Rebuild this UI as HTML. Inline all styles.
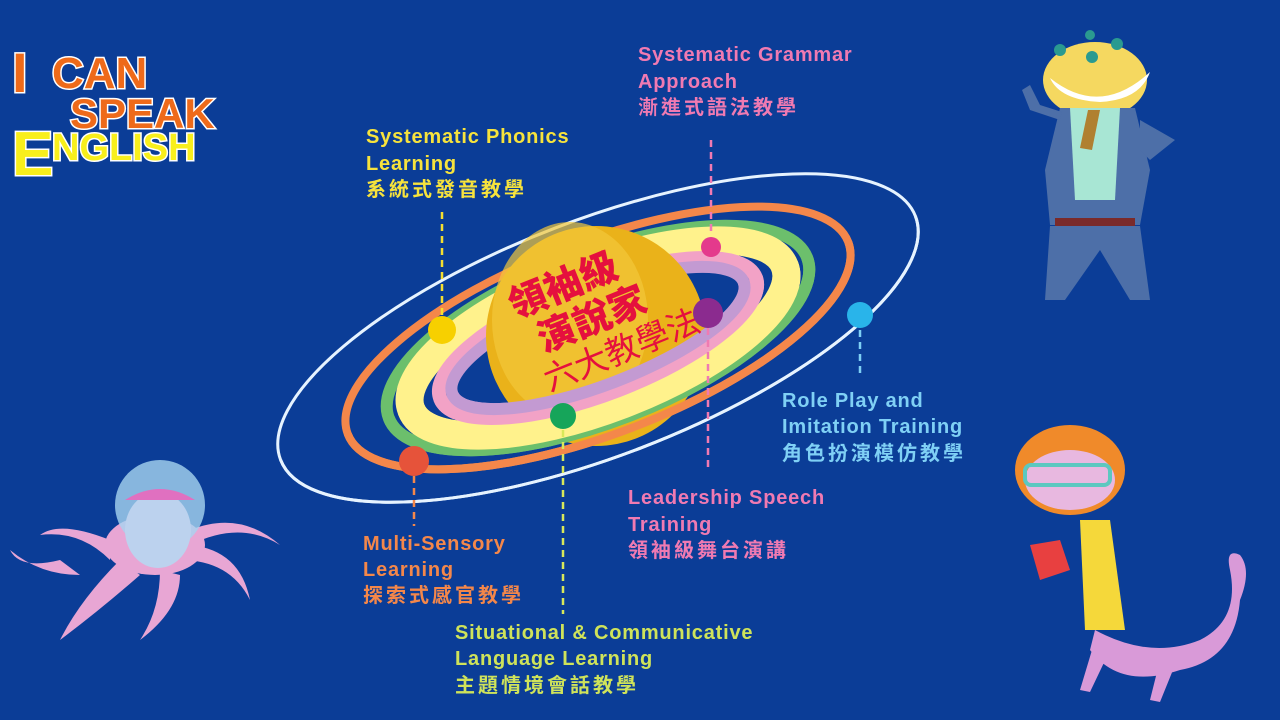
<!DOCTYPE html>
<html><head><meta charset="utf-8"><style>
html,body{margin:0;padding:0;background:#0b3d97;}
svg{display:block;}
text{font-family:"Liberation Sans","Noto Sans CJK TC",sans-serif;font-weight:bold;font-size:20px;letter-spacing:0.8px;}
text.c{letter-spacing:3px;}
</style></head><body>
<svg width="1280" height="720" viewBox="0 0 1280 720" xmlns="http://www.w3.org/2000/svg">
<rect width="1280" height="720" fill="#0b3d97"/>
<defs>
<clipPath id="front"><rect x="-400" y="0" width="800" height="300"/></clipPath>
</defs>
<g transform="translate(598,338) rotate(-21)" fill="none">
<ellipse rx="340" ry="118" stroke="#e6f3ff" stroke-width="3"/>
<ellipse rx="268" ry="96" stroke="#f4874a" stroke-width="8"/>
<ellipse rx="224" ry="84" stroke="#6cbf6c" stroke-width="12"/>
<ellipse rx="200" ry="71" stroke="#fff28c" stroke-width="28"/>
<ellipse rx="169" ry="56" stroke="#f2a2c6" stroke-width="14"/>
<ellipse rx="156" ry="47" stroke="#c39ad2" stroke-width="12"/>
</g>
<circle cx="596" cy="336" r="110" fill="#eab21a"/>
<ellipse cx="570" cy="320" rx="78" ry="98" fill="#f2c83a" opacity="0.7"/>
<g transform="translate(598,338) rotate(-21)" fill="none" clip-path="url(#front)">
<ellipse rx="340" ry="118" stroke="#e6f3ff" stroke-width="3"/>
<ellipse rx="268" ry="96" stroke="#f4874a" stroke-width="8"/>
<ellipse rx="224" ry="84" stroke="#6cbf6c" stroke-width="12"/>
<ellipse rx="200" ry="71" stroke="#fff28c" stroke-width="28"/>
<ellipse rx="169" ry="56" stroke="#f2a2c6" stroke-width="14"/>
<ellipse rx="156" ry="47" stroke="#c39ad2" stroke-width="12"/>
</g>
<g transform="translate(598,318) rotate(-22)" fill="#e5103e" text-anchor="middle">
<text x="-20" y="-30" style="font-size:38px;font-weight:900;letter-spacing:0">領袖級</text>
<text x="-6" y="12" style="font-size:38px;font-weight:900;letter-spacing:0">演說家</text>
<text x="10" y="50" style="font-size:33px;font-weight:normal;letter-spacing:0">六大教學法</text>
</g>
<g stroke-width="2.5" stroke-dasharray="7,5" fill="none">
<line x1="442" y1="212" x2="442" y2="318" stroke="#f5df30"/>
<line x1="711" y1="140" x2="711" y2="236" stroke="#f07ab2"/>
<line x1="708" y1="328" x2="708" y2="472" stroke="#f07ab2"/>
<line x1="860" y1="330" x2="860" y2="376" stroke="#7fd0f5"/>
<line x1="414" y1="476" x2="414" y2="526" stroke="#f4874a"/>
<line x1="563" y1="430" x2="563" y2="614" stroke="#d8e85a"/>
</g>
<circle cx="442" cy="330" r="14" fill="#f7d000"/>
<circle cx="711" cy="247" r="10" fill="#e43a8c"/>
<circle cx="708" cy="313" r="15" fill="#8b2b8f"/>
<circle cx="860" cy="315" r="13" fill="#29b4ea"/>
<circle cx="563" cy="416" r="13" fill="#16a55a"/>
<circle cx="414" cy="461" r="15" fill="#e6533a"/>
<g fill="#f7e33c"><text x="366" y="143">Systematic Phonics</text><text x="366" y="170">Learning</text><text class="c" x="366" y="196">系統式發音教學</text></g>
<g fill="#f07ab2"><text x="638" y="61">Systematic Grammar</text><text x="638" y="88">Approach</text><text class="c" x="638" y="114">漸進式語法教學</text></g>
<g fill="#7fd0f5"><text x="782" y="407">Role Play and</text><text x="782" y="433">Imitation Training</text><text class="c" x="782" y="460">角色扮演模仿教學</text></g>
<g fill="#f07ab2"><text x="628" y="504">Leadership Speech</text><text x="628" y="531">Training</text><text class="c" x="628" y="557">領袖級舞台演講</text></g>
<g fill="#f4874a"><text x="363" y="550">Multi-Sensory</text><text x="363" y="576">Learning</text><text class="c" x="363" y="602">探索式感官教學</text></g>
<g fill="#cfe35a"><text x="455" y="639">Situational &amp; Communicative</text><text x="455" y="665">Language Learning</text><text class="c" x="455" y="692">主題情境會話教學</text></g>
<g stroke="#fff" stroke-width="3" paint-order="stroke">
<text x="12" y="92" fill="#ee6a1a" style="font-size:56px;font-weight:900;letter-spacing:0">I</text>
<text x="52" y="88" fill="#ee6a1a" style="font-size:44px;font-weight:900;letter-spacing:0">CAN</text>
<text x="70" y="128" fill="#ee6a1a" style="font-size:42px;font-weight:900;letter-spacing:0">SPEAK</text>
<text x="12" y="175" fill="#f8ef1c" style="font-size:62px;font-weight:900;letter-spacing:0">E</text>
<text x="52" y="160" fill="#f8ef1c" style="font-size:38px;font-weight:900;letter-spacing:0">NGLISH</text>
</g>
<g>
<ellipse cx="1095" cy="80" rx="52" ry="38" fill="#f5d860"/>
<path d="M1050 78 Q1100 118 1150 72 Q1140 100 1100 102 Q1060 100 1050 78Z" fill="#fff"/>
<circle cx="1060" cy="50" r="6" fill="#2a9a90"/><circle cx="1117" cy="44" r="6" fill="#2a9a90"/><circle cx="1092" cy="57" r="6" fill="#2a9a90"/><circle cx="1090" cy="35" r="5" fill="#2a9a90"/>
<path d="M1060 108 L1135 108 L1150 170 L1140 225 L1050 225 L1045 170Z" fill="#4d6fa8"/>
<path d="M1070 108 L1120 108 L1115 200 L1075 200Z" fill="#a8e6d4"/>
<path d="M1088 110 L1100 110 L1092 150 L1080 148Z" fill="#b08030"/>
<rect x="1055" y="218" width="80" height="8" fill="#7a2a2a"/>
<path d="M1050 226 L1140 226 L1150 300 L1130 300 L1100 250 L1065 300 L1045 300Z" fill="#4d6fa8"/>
<path d="M1060 120 L1030 110 L1022 90 L1030 85 L1040 105 L1062 112Z" fill="#4d6fa8"/>
<path d="M1140 120 L1175 140 L1150 160 L1140 150Z" fill="#4d6fa8"/>
</g>
<g>
<ellipse cx="1070" cy="470" rx="55" ry="45" fill="#f08a2a"/>
<ellipse cx="1070" cy="480" rx="45" ry="30" fill="#e8b8e0"/>
<rect x="1025" y="465" width="85" height="20" rx="6" fill="none" stroke="#5cc8c0" stroke-width="4"/>
<path d="M1080 520 L1110 520 L1125 630 L1085 630 Z" fill="#f5d83a"/>
<path d="M1030 545 L1060 540 L1070 570 L1040 580Z" fill="#e84040"/>
<path d="M1095 630 Q1150 660 1200 640 Q1240 620 1230 570 Q1225 548 1240 555 Q1252 570 1240 600 Q1235 660 1180 670 Q1120 690 1090 650Z" fill="#d99ad8"/>
<path d="M1095 640 L1080 690 L1090 692 L1110 650Z M1160 660 L1150 700 L1160 702 L1175 665Z" fill="#d99ad8"/>
</g>
<g fill="#e8a6d4">
<path d="M60 560 Q20 570 10 550 Q40 575 80 575Z"/>
<path d="M110 540 Q60 520 40 535 Q80 530 110 560Z"/>
<path d="M120 560 Q80 600 60 640 Q100 610 140 575Z"/>
<path d="M160 570 Q160 610 140 640 Q180 610 180 575Z"/>
<path d="M180 560 Q230 560 250 600 Q240 550 190 545Z"/>
<path d="M190 545 Q240 520 280 545 Q240 510 190 530Z"/>
<ellipse cx="155" cy="545" rx="50" ry="30"/>
</g>
<circle cx="160" cy="505" r="45" fill="#a6d4f0" opacity="0.8"/>
<ellipse cx="158" cy="530" rx="33" ry="38" fill="#bcd2ee"/>
<path d="M125 500 Q160 478 195 500 Z" fill="#e070c0"/>
</svg>
</body></html>
